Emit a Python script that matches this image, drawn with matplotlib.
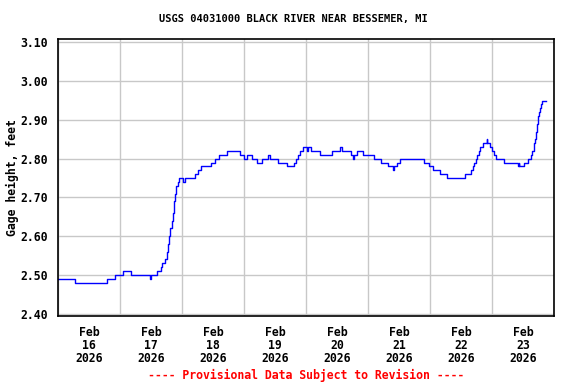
"""Gage height at USGS 04031000, Black River near Bessemer, MI"""

import datetime as dt
import matplotlib
matplotlib.use("Agg")
import matplotlib.pyplot as plt
import matplotlib.dates as mdates

# hours since Feb 16 2026 00:00 at which the reading changes, and the new reading (ft)
hours = [0, 6.7, 19.0, 22.1, 25.2, 28.3, 35.75, 36.1, 38.5, 39.75, 40.4, 41.3,
         42.1, 42.6, 43.1, 43.5, 44.1, 44.5, 44.9, 45.4, 45.8, 46.3, 46.85,
         48.4, 49.05, 52.9, 54.2, 55.2, 59.4, 60.7, 62.3, 65.6, 70.6, 71.9,
         73.3, 75.1, 76.9, 78.9, 81.4, 82.0, 85.2, 88.5, 91.4, 92.1, 92.9,
         93.5, 94.85, 96.4, 96.8, 98.1, 101.3, 106.1, 109.2, 109.9, 113.3,
         114.2, 114.6, 115.8, 118.1, 122.2, 124.9, 127.6, 129.7, 129.95,
         131.1, 132.3, 141.6, 143.6, 145.0, 147.9, 150.6, 157.7, 159.9, 160.7,
         161.2, 161.7, 162.2, 162.9, 163.5, 164.4, 165.9, 166.2, 167.4, 167.9,
         168.7, 169.7, 172.8, 178.1, 178.4, 178.6, 180.3, 182.1, 183.1, 183.6,
         184.1, 184.4, 184.7, 185.0, 185.2, 185.4, 185.6, 185.8, 186.0, 186.3,
         186.5, 187.0, 187.5, 189.0]
gage = [2.49, 2.48, 2.49, 2.50, 2.51, 2.50, 2.49, 2.50, 2.51, 2.52, 2.53, 2.54,
        2.56, 2.58, 2.60, 2.62, 2.64, 2.66, 2.69, 2.71, 2.73, 2.74, 2.75,
        2.74, 2.75, 2.76, 2.77, 2.78, 2.79, 2.80, 2.81, 2.82, 2.81, 2.80,
        2.81, 2.80, 2.79, 2.80, 2.81, 2.80, 2.79, 2.78, 2.79, 2.80, 2.81,
        2.82, 2.83, 2.82, 2.83, 2.82, 2.81, 2.82, 2.83, 2.82, 2.81,
        2.80, 2.81, 2.82, 2.81, 2.80, 2.79, 2.78, 2.77, 2.78,
        2.79, 2.80, 2.79, 2.78, 2.77, 2.76, 2.75, 2.76, 2.77, 2.78,
        2.79, 2.80, 2.81, 2.82, 2.83, 2.84, 2.85, 2.84, 2.83, 2.82,
        2.81, 2.80, 2.79, 2.78, 2.79, 2.78, 2.79, 2.80, 2.81, 2.82,
        2.83, 2.84, 2.85, 2.86, 2.87, 2.88, 2.89, 2.90, 2.91, 2.92,
        2.93, 2.94, 2.95, 2.95]
y_ticks = [2.40, 2.50, 2.60, 2.70, 2.80, 2.90, 3.00, 3.10]

start = dt.datetime(2026, 2, 16)
times = [start + dt.timedelta(hours=h) for h in hours]

mono = "DejaVu Sans Mono"

fig = plt.figure(figsize=(5.76, 3.84), dpi=100)
ax = fig.add_axes([0.1007, 0.177, 0.8611, 0.7207])

ax.plot(times, gage, color="blue", linewidth=1.0, drawstyle="steps-post")

ax.set_xlim(start, start + dt.timedelta(days=8))
ax.set_ylim(2.394, 3.108)
ax.set_yticks(y_ticks)
ax.set_yticklabels([f"{v:.2f}" for v in y_ticks], family=mono,
                   fontweight="bold", fontsize=8.3)

# day boundaries get grid lines, labels sit at noon
ax.xaxis.set_minor_locator(mdates.DayLocator())
ax.xaxis.set_major_locator(mdates.HourLocator(byhour=[12]))
ax.xaxis.set_major_formatter(mdates.DateFormatter("%b\n%d\n%Y"))
for lbl in ax.get_xticklabels():
    lbl.set_family(mono)
    lbl.set_fontweight("bold")
    lbl.set_fontsize(8.3)
    lbl.set_linespacing(1.0)

ax.tick_params(axis="x", which="both", length=0, pad=7)
ax.tick_params(axis="y", length=0, pad=7)
ax.grid(False, which="major", axis="x")
ax.grid(True, which="minor", axis="x", color="#c8c8c8", linewidth=1.0)
ax.grid(True, which="major", axis="y", color="#c8c8c8", linewidth=1.0)
ax.set_axisbelow(True)
for s in ax.spines.values():
    s.set_linewidth(1.2)
    s.set_color("black")

ax.set_ylabel("Gage height, feet", family=mono, fontweight="bold",
              fontsize=8.3, labelpad=1)
fig.text(0.51, 0.95, "USGS 04031000 BLACK RIVER NEAR BESSEMER, MI",
         family=mono, fontweight="bold", fontsize=7.5, ha="center", va="center")
fig.text(0.531, 0.023, "---- Provisional Data Subject to Revision ----",
         family=mono, fontweight="bold", fontsize=8.3, color="red",
         ha="center", va="center")

fig.savefig("out.png", dpi=100)
